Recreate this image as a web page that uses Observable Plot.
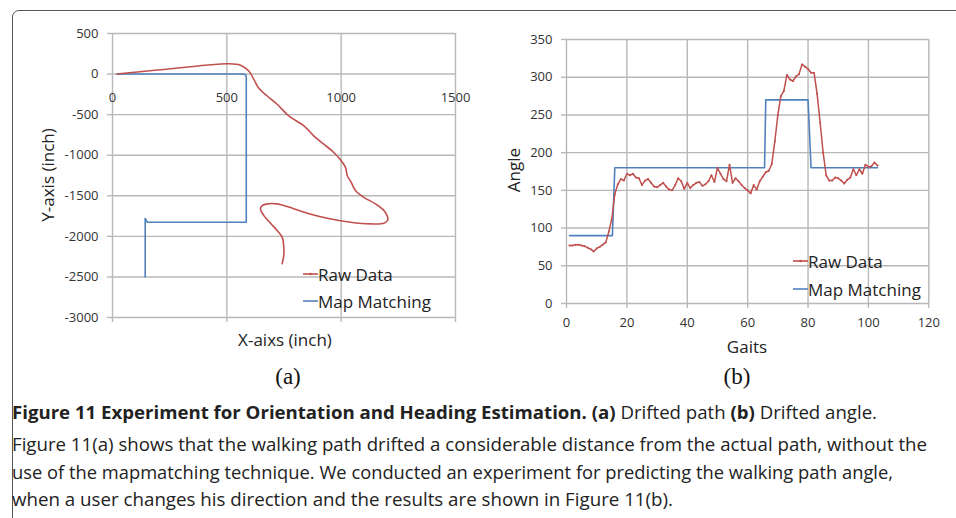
<!DOCTYPE html>
<html><head><meta charset="utf-8">
<script src="https://cdn.jsdelivr.net/npm/d3@7"></script>
<script src="https://cdn.jsdelivr.net/npm/@observablehq/plot@0.6"></script>
<style>
html,body{margin:0;padding:0;background:#fff;overflow:hidden;}
#root{position:relative;width:956px;height:518px;overflow:hidden;font-family:"Open Sans",sans-serif;color:#222;background:#fff;}
.frame{position:absolute;left:12px;top:10px;width:1000px;height:600px;border:1.5px solid #555;border-radius:7px;}
.abs{position:absolute;white-space:nowrap;line-height:1;}
.ctr{transform:translate(-50%,-50%);}
.rot{transform:translate(-50%,-50%) rotate(-90deg);}
.leg{font-size:17px;transform:translateY(-50%);}
svg.chart{position:absolute;top:0;overflow:visible;}
</style></head><body>
<div id="root"><div class="frame"></div></div>
<script>
// ---------- Data: (a) drifted path ----------
const pathRawX = [20,108,224,341,429,502,560,596,618,640,677,720,771,837,880,924,968,1000,1019,1027,1044,1063,1099,1150,1187,1204,1187,1129,1041,939,852,764,720,677,655,647,662,691,720,742,749,749,742];
const pathRawY = [0,25,57,90,115,127,110,37,-65,-176,-270,-372,-516,-638,-761,-864,-966,-1068,-1150,-1253,-1335,-1437,-1519,-1600,-1682,-1797,-1838,-1846,-1826,-1777,-1715,-1633,-1600,-1600,-1621,-1662,-1744,-1838,-1928,-2010,-2133,-2235,-2337];
const pathMapX = [20,572,583,585,585,152,143,143];
const pathMapY = [0,0,-12,-45,-1826,-1826,-1780,-2500];
const xTicksA = [0,500,1000,1500];
const yTicksA = [500,0,-500,-1000,-1500,-2000,-2500,-3000];

// ---------- Data: (b) drifted angle ----------
const gaits = [1,2,3,4,5,6,7,8,9,10,11,12,13,14,15,16,17,18,19,20,21,22,23,24,25,26,27,28,29,30,31,32,33,34,35,36,37,38,39,40,41,42,43,44,45,46,47,48,49,50,51,52,53,54,55,56,57,58,59,60,61,62,63,64,65,66,67,68,69,70,71,72,73,74,75,76,77,78,79,80,81,82,83,84,85,86,87,88,89,90,91,92,93,94,95,96,97,98,99,100,101,102,103];
const rawAngle = [77,77,78,78,77,76,74,72,69,73,
  75,78,81,95,112,145,158,165,163,172,
  170,172,167,166,157,163,165,160,155,154,
  157,160,155,151,150,157,166,162,152,160,
  153,157,160,161,156,158,162,170,161,180,
  172,165,162,184,160,166,162,157,153,150,
  146,157,151,162,168,174,176,185,215,250,
  275,282,303,297,295,301,304,317,314,311,
  306,306,278,240,200,170,163,163,167,166,
  163,159,164,167,178,170,178,172,184,181,
  182,187,183];
const mapGait = [1,15.2,16,65.6,66,80,81,103];
const mapAngle = [90,90,180,180,270,270,180,180];
const xTicksB = [0,20,40,60,80,100,120];
const yTicksB = [0,50,100,150,200,250,300,350];

const seriesNames = ["Raw Data","Map Matching"];
const seriesColors = ["#c0504d","#4f81bd"];
const axisTitlesA = ["X-aixs (inch)","Y-axis (inch)"];
const axisTitlesB = ["Gaits","Angle"];
const panelLabels = ["(a)","(b)"];

const GRID = "#b8b8b8";
const rawPath = pathRawX.map((x,i)=>({x, y: pathRawY[i]}));
const mapPath = pathMapX.map((x,i)=>({x, y: pathMapY[i]}));
const rawSeries = gaits.map((g,i)=>({g, a: rawAngle[i]}));
const mapSeries = mapGait.map((g,i)=>({g, a: mapAngle[i]}));

const style = {fontFamily:"'Open Sans', sans-serif", fontSize:"13px", color:"#333", background:"transparent", overflow:"visible"};

const chartA = Plot.plot({
  width: 480, height: 360,
  marginLeft: 112, marginRight: 25, marginTop: 33, marginBottom: 43,
  x: {domain: [0,1500]}, y: {domain: [-3000,500]},
  style,
  marks: [
    Plot.gridX(xTicksA, {stroke: GRID, strokeOpacity: 1, strokeWidth: 1.4}),
    Plot.gridY(yTicksA, {stroke: GRID, strokeOpacity: 1, strokeWidth: 1.4}),
    Plot.axisX({ticks: xTicksA, tickSize: 5, tickFormat: () => "", label: null, stroke: GRID, strokeWidth: 1.4}),
    Plot.axisY({ticks: yTicksA, tickSize: 5, tickPadding: 9, label: null, stroke: GRID, strokeWidth: 1.4, fill: "#333", tickFormat: d => String(d)}),
    Plot.text(xTicksA, {x: d => d, y: () => 0, dy: 24, text: d => String(d), fill: "#333", fontSize: 13}),
    Plot.line(mapPath, {x: "x", y: "y", stroke: seriesColors[1], strokeWidth: 1.6}),
    Plot.line(rawPath, {x: "x", y: "y", stroke: seriesColors[0], strokeWidth: 1.6, curve: "catmull-rom"})
  ]
});
chartA.classList.add("chart");
chartA.style.left = "0px";

const chartB = Plot.plot({
  width: 476, height: 360,
  marginLeft: 86, marginRight: 27.7, marginTop: 39, marginBottom: 57,
  x: {domain: [0,120]}, y: {domain: [0,350]},
  style,
  marks: [
    Plot.gridX(xTicksB, {stroke: GRID, strokeOpacity: 1, strokeWidth: 1.4}),
    Plot.gridY(yTicksB, {stroke: GRID, strokeOpacity: 1, strokeWidth: 1.4}),
    Plot.axisX({ticks: xTicksB, tickSize: 5, tickPadding: 9, label: null, stroke: GRID, strokeWidth: 1.4, fill: "#333", tickFormat: d => String(d)}),
    Plot.axisY({ticks: yTicksB, tickSize: 5, tickPadding: 9, label: null, stroke: GRID, strokeWidth: 1.4, fill: "#333", tickFormat: d => String(d)}),
    Plot.line(mapSeries, {x: "g", y: "a", stroke: seriesColors[1], strokeWidth: 1.6}),
    Plot.line(rawSeries, {x: "g", y: "a", stroke: seriesColors[0], strokeWidth: 1.5}),
    Plot.dot(rawSeries, {x: "g", y: "a", fill: seriesColors[0], r: 1, stroke: "none"})
  ]
});
chartB.classList.add("chart");
chartB.style.left = "480px";

const root = document.getElementById("root");
root.appendChild(chartA);
root.appendChild(chartB);

function addText(txt, left, top, cls, css) {
  const d = document.createElement("div");
  d.className = "abs " + cls;
  d.textContent = txt;
  d.style.left = left + "px";
  d.style.top = top + "px";
  Object.assign(d.style, css || {});
  root.appendChild(d);
  return d;
}
// axis titles
addText(axisTitlesA[0], 285, 339, "ctr", {fontSize: "17px"});
addText(axisTitlesA[1], 47, 175, "rot", {fontSize: "17px"});
addText(axisTitlesB[0], 747, 346, "ctr", {fontSize: "17px"});
addText(axisTitlesB[1], 513, 170, "rot", {fontSize: "17px"});

// legends
function legend(x0, y0, gap) {
  seriesNames.forEach((name, i) => {
    const y = y0 + i * gap;
    const s = document.createElementNS("http://www.w3.org/2000/svg","svg");
    s.setAttribute("width", 16); s.setAttribute("height", 6);
    s.style.position = "absolute"; s.style.left = (x0 - 15) + "px"; s.style.top = (y - 3) + "px";
    s.innerHTML = `<line x1="0" y1="3" x2="15" y2="3" stroke="${seriesColors[i]}" stroke-width="1.6"/>` +
      (i === 0 ? `<circle cx="7.5" cy="3" r="1.3" fill="${seriesColors[i]}"/>` : "");
    root.appendChild(s);
    addText(name, x0, y, "leg", {});
  });
}
legend(318, 274, 27);
legend(808, 261, 28);

// panel labels
addText(panelLabels[0], 288, 376, "ctr", {fontFamily: "'Liberation Serif', serif", fontSize: "23px", color: "#111"});
addText(panelLabels[1], 737, 376, "ctr", {fontFamily: "'Liberation Serif', serif", fontSize: "23px", color: "#111"});

// caption
const captionLines = [
  [["Figure 11 Experiment for Orientation and Heading Estimation.", true], [" (a)", true], [" Drifted path ", false], ["(b)", true], [" Drifted angle.", false]],
  [["Figure 11(a) shows that the walking path drifted a considerable distance from the actual path, without the", false]],
  [["use of the mapmatching technique. We conducted an experiment for predicting the walking path angle,", false]],
  [["when a user changes his direction and the results are shown in Figure 11(b).", false]]
];
const captionWidths = [865, 915, 881, 661];
const captionBaselines = [419, 451, 479, 506];
const cap = document.createElementNS("http://www.w3.org/2000/svg","svg");
cap.setAttribute("width", 956); cap.setAttribute("height", 518);
cap.style.position = "absolute"; cap.style.left = "0px"; cap.style.top = "0px";
let html = "";
captionLines.forEach((parts, i) => {
  const spans = parts.map(([t, b]) => `<tspan font-weight="${b ? 700 : 400}">${t.replace(/ /g, "&#160;")}</tspan>`).join("");
  html += `<text x="12" y="${captionBaselines[i]}" textLength="${captionWidths[i]}" lengthAdjust="spacingAndGlyphs" font-family="'Open Sans', sans-serif" font-size="18" fill="#222">${spans}</text>`;
});
cap.innerHTML = html;
root.appendChild(cap);
</script>
</body></html>
